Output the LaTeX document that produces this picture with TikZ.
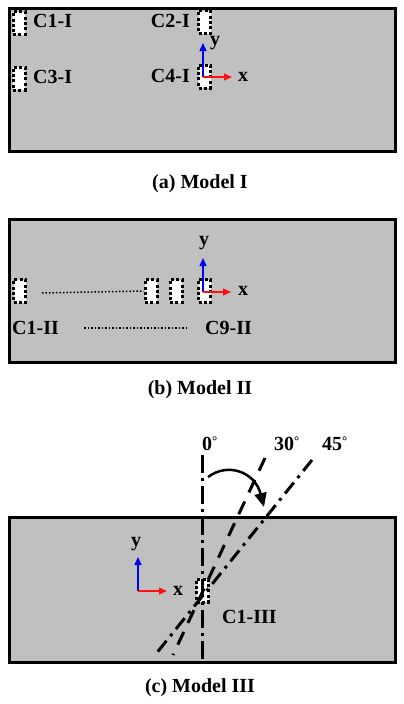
\documentclass[tikz,border=0pt]{standalone}
\usepackage{fontspec}
\setmainfont{Liberation Serif}
\usepackage{xcolor}
\usepackage{tikz}
\usetikzlibrary{arrows.meta, positioning}
\definecolor{plate}{HTML}{C0C0C0}
\definecolor{axred}{HTML}{FF1010}
\definecolor{axblue}{HTML}{0000F0}
\newcommand{\dg}{\raisebox{5pt}{\fontsize{13}{13}\selectfont °}}
\tikzset{
  panel/.style={draw=black, line width=3pt, fill=plate},
  col/.style={rectangle, draw=black, fill=white, line width=3pt, dash pattern=on 3pt off 2.4pt, minimum width=12pt, minimum height=23pt, inner sep=0pt},
  lbl/.style={font=\bfseries\fontsize{20}{22}\selectfont, inner sep=0pt},
  xax/.style={-{Triangle[length=8pt,width=7pt]}, line width=1.3pt, axred},
  yax/.style={-{Triangle[length=8pt,width=7pt]}, line width=1.3pt, axblue},
  seam/.style={dotted, line width=1.5pt},
  refline/.style={line width=3pt, dash pattern=on 18pt off 5pt on 3pt off 5pt},
  rotline/.style={line width=3pt, dash pattern=on 14pt off 10pt},
  rotline2/.style={line width=3pt, dash pattern=on 14pt off 6pt on 3pt off 6pt},
  turn/.style={-{Triangle[length=14pt,width=12pt]}, line width=2.5pt},
}

\begin{document}
\begin{tikzpicture}[x=1pt, y=-1pt]
\useasboundingbox (0,0) rectangle (404,704);

% (a) Model I
\draw[panel] (9.5,8) rectangle (395.5,151);
\node[col] (c1a) at (19,23) {};
\node[col] (c3a) at (19,78.5) {};
\node[col] (c2a) at (204.5,22) {};
\node[col] (c4a) at (204.5,76.5) {};
\node[lbl, anchor=west] (t1a) at (33,21) {C1-I};
\node[lbl, anchor=west] (t3a) at (33,77) {C3-I};
\node[lbl, anchor=east] (t2a) at (190,21) {C2-I};
\node[lbl, anchor=east] (t4a) at (190,76) {C4-I};
\coordinate (oa) at (203,77);
\coordinate (ya) at (203,43);
\coordinate (xa) at (232,77);
\draw[yax] (oa) -- (ya);
\draw[xax] (oa) -- (xa);
\node[lbl] (yla) at (215,43) {y};
\node[lbl] (xla) at (243,77) {x};
\node[lbl] (capa) at (200,184) {(a) Model I};

% (b) Model II
\draw[panel] (9.5,219.5) rectangle (395.5,362);
\node[col] (c1b) at (19.5,291) {};
\node[col] (c7b) at (151,291) {};
\node[col] (c8b) at (176,291) {};
\node[col] (c9b) at (204.5,291) {};
\coordinate (sa) at (42,293);
\draw[seam] (sa) -- (c7b.west);
\coordinate (ob) at (203,292);
\coordinate (yb) at (203,258);
\coordinate (xb) at (231,292);
\draw[yax] (ob) -- (yb);
\draw[xax] (ob) -- (xb);
\node[lbl] (ylb) at (204,243) {y};
\node[lbl] (xlb) at (243,291) {x};
\node[lbl, anchor=west] (t1b) at (12,328) {C1-II};
\node[lbl, anchor=west] (t9b) at (205,328) {C9-II};
\draw[seam] ([xshift=25pt]t1b.east) -- ([xshift=-18pt]t9b.west);
\node[lbl] (capb) at (200,390) {(b) Model II};

% (c) Model III
\draw[panel] (9.5,517) rectangle (395.5,662);
\node[col] (c1c) at (202.5,590.5) {};
\coordinate (r0t) at (202,455);
\coordinate (r0b) at (202,662);
\coordinate (r30t) at (265,458);
\coordinate (r30b) at (173,655);
\coordinate (r45t) at (312,460);
\coordinate (r45b) at (155,655);
\draw[refline] (r0t) -- (r0b);
\draw[rotline] (r30t) -- (r30b);
\draw[rotline2] (r45t) -- (r45b);
\coordinate (ts) at (208,477);
\coordinate (te) at (264,507);
\draw[turn] (ts) .. controls (228,462) and (255,472) .. (te);
\node[lbl, anchor=west] (a0) at (202,444) {0\dg};
\node[lbl, anchor=west] (a30) at (274,444) {30\dg};
\node[lbl, anchor=west] (a45) at (322,444) {45\dg};
\node[lbl, anchor=west] (t1c) at (222,617) {C1-III};
\coordinate (oc) at (138,591);
\coordinate (yc) at (138,557);
\coordinate (xc) at (167,591);
\draw[yax] (oc) -- (yc);
\draw[xax] (oc) -- (xc);
\node[lbl] (ylc) at (136,544) {y};
\node[lbl] (xlc) at (178,591) {x};
\node[lbl] (capc) at (200,688) {(c) Model III};
\end{tikzpicture}
\end{document}
